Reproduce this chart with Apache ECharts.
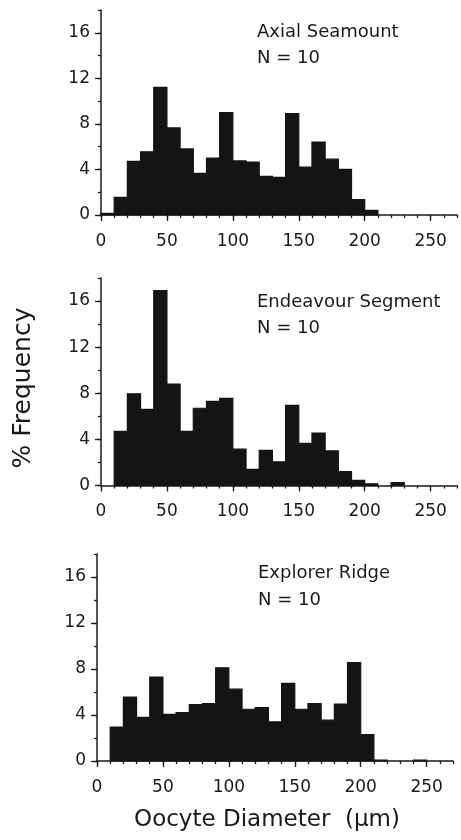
<!DOCTYPE html>
<html>
<head>
<meta charset="utf-8">
<script src="https://cdn.jsdelivr.net/npm/echarts@6/dist/echarts.min.js"></script>
<style>
html,body{margin:0;padding:0;background:#fff;}
#chart{width:461px;height:840px;}
</style>
</head>
<body>
<div id="chart"></div>
<script>
// Bin lower edges (µm), bin width 10
const binStarts = [0,10,20,30,40,50,60,70,80,90,100,110,120,130,140,150,160,170,180,190,200,210,220,230,240,250,260];
const binWidth = 10;
// % frequency per bin
const axialValues     = [0.15,1.55,4.7,5.55,11.2,7.65,5.8,3.65,5.0,9.0,4.75,4.65,3.4,3.3,8.9,4.2,6.4,4.9,4.0,1.35,0.4,0,0,0,0,0,0];
const endeavourValues = [0,4.7,7.95,6.6,16.9,8.8,4.7,6.7,7.3,7.55,3.15,1.4,3.05,2.05,6.95,3.65,4.55,3.0,1.2,0.45,0.15,0,0.25,0,0,0,0];
const explorerValues  = [0,2.95,5.55,3.8,7.3,4.05,4.2,4.9,5.0,8.1,6.25,4.5,4.65,3.4,6.75,4.5,5.0,3.55,4.95,8.55,2.3,0.08,0,0,0.08,0,0];
const panelNames = ['Axial Seamount','Endeavour Segment','Explorer Ridge'];
const panelN = ['N = 10','N = 10','N = 10'];
const xMajorTicks = [0,50,100,150,200,250];
const yMajorTicks = [0,4,8,12,16];
const xMax = 270, yMax = 18;

const FONT = 'DejaVu Sans';
const INK = '#1a1a1a';
const BAR = '#141414';
const grids = [
  {left:101, top:10,  width:356, height:205},
  {left:101, top:278, width:356, height:207.5},
  {left:97,  top:554, width:356, height:207}
];
const series = [axialValues, endeavourValues, explorerValues];

const xAxes = [], yAxes = [], seriesOpts = [];
grids.forEach((g, i) => {
  xAxes.push({
    type:'value', gridIndex:i, min:0, max:xMax, interval:10,
    axisLine:{show:true, lineStyle:{color:INK, width:1.5}},
    axisTick:{show:true, length:3, lineStyle:{color:INK, width:1.3}},
    axisLabel:{show:false}, splitLine:{show:false}
  });
  xAxes.push({
    type:'value', gridIndex:i, min:0, max:xMax, position:'bottom',
    axisLine:{show:false},
    axisTick:{show:true, length:6, customValues:xMajorTicks, lineStyle:{color:INK, width:1.3}},
    axisLabel:{show:true, customValues:xMajorTicks, margin:18, fontFamily:FONT, fontSize:17, color:INK},
    splitLine:{show:false}
  });
  yAxes.push({
    type:'value', gridIndex:i, min:0, max:yMax, interval:2,
    axisLine:{show:true, lineStyle:{color:INK, width:1.5}},
    axisTick:{show:true, length:3, lineStyle:{color:INK, width:1.3}},
    axisLabel:{show:false}, splitLine:{show:false}
  });
  yAxes.push({
    type:'value', gridIndex:i, min:0, max:yMax, position:'left',
    axisLine:{show:false},
    axisTick:{show:true, length:6, customValues:yMajorTicks, lineStyle:{color:INK, width:1.3}},
    axisLabel:{show:true, customValues:yMajorTicks, margin:11, fontFamily:FONT, fontSize:17, color:INK},
    splitLine:{show:false}
  });
  seriesOpts.push({
    type:'custom', xAxisIndex:i*2, yAxisIndex:i*2,
    data: binStarts.map((s, k) => [s, s + binWidth, series[i][k]]),
    renderItem: function(params, api){
      const v = api.value(2);
      if (!v) return null;
      const p0 = api.coord([api.value(0), 0]);
      const p1 = api.coord([api.value(1), v]);
      return {type:'rect', shape:{x:p0[0], y:p1[1], width:p1[0]-p0[0], height:p0[1]-p1[1]},
              style:{fill:BAR, stroke:BAR, lineWidth:1.2}};
    },
    silent:true, animation:false
  });
});

const labelPos = [
  {x:257, y1:32, y2:58.5},
  {x:257, y1:302, y2:328},
  {x:258, y1:573.5, y2:600}
];
const graphics = [];
labelPos.forEach((p, i) => {
  graphics.push({type:'text', x:p.x, y:p.y1, style:{text:panelNames[i], fontFamily:FONT, fontSize:18, fill:INK, align:'left', verticalAlign:'middle', textAlign:'left', textVerticalAlign:'middle'}});
  graphics.push({type:'text', x:p.x, y:p.y2, style:{text:panelN[i], fontFamily:FONT, fontSize:18, fill:INK, align:'left', verticalAlign:'middle', textAlign:'left', textVerticalAlign:'middle'}});
});
graphics.push({type:'text', x:23, y:388, rotation:Math.PI/2, style:{text:'% Frequency', fontFamily:FONT, fontSize:25, fill:INK, align:'center', verticalAlign:'middle', textAlign:'center', textVerticalAlign:'middle'}});
graphics.push({type:'text', x:267, y:820, style:{text:'Oocyte Diameter  (\u00b5m)', fontFamily:FONT, fontSize:23, fill:INK, align:'center', verticalAlign:'middle', textAlign:'center', textVerticalAlign:'middle'}});

const chart = echarts.init(document.getElementById('chart'), null, {renderer:'canvas'});
chart.setOption({
  animation:false,
  backgroundColor:'#fff',
  grid: grids,
  xAxis: xAxes,
  yAxis: yAxes,
  series: seriesOpts,
  graphic: graphics
});
</script>
</body>
</html>
